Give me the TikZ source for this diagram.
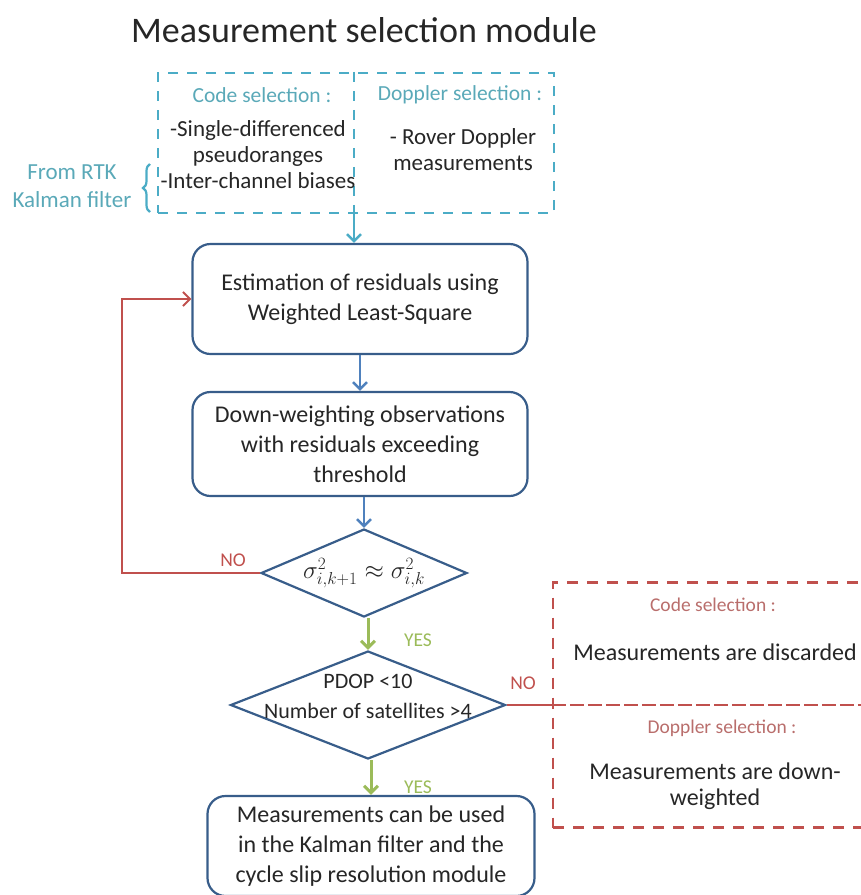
\documentclass[tikz,border=0pt]{standalone}
\usepackage{fontspec}
\setmainfont{Carlito}
\usetikzlibrary{shapes.geometric,arrows.meta,decorations.pathreplacing}
\definecolor{tealc}{HTML}{4BACC6}
\definecolor{tealt}{HTML}{5AA9B8}
\definecolor{boxc}{HTML}{385D8A}
\definecolor{bluea}{HTML}{4F81BD}
\definecolor{redc}{HTML}{C0504D}
\definecolor{redt}{HTML}{B96E6C}
\definecolor{greenc}{HTML}{9BBB59}
\definecolor{txt}{HTML}{262626}
\tikzset{
  every node/.style={text=txt, font=\fontsize{24}{30}\selectfont},
  procbox/.style={draw=boxc, line width=2.2pt, rounded corners=18pt, fill=white, align=center, inner sep=0pt},
  decbox/.style={draw=boxc, line width=2.2pt, diamond, fill=white, inner sep=0pt},
  tealtxt/.style={text=tealt, font=\fontsize{21.5}{26}\selectfont},
  redtxt/.style={text=redt, font=\fontsize{19.5}{26}\selectfont},
  toptxt/.style={align=center, font=\fontsize{23}{26}\selectfont},
  blueflow/.style={draw=bluea, line width=2.5pt, -{Straight Barb[length=7pt,width=14pt]}},
  greenflow/.style={draw=greenc, line width=3pt, -{Straight Barb[length=7pt,width=14pt]}},
  redflow/.style={draw=redc, line width=2pt, -{Straight Barb[length=7pt,width=14pt]}},
  lbl/.style={font=\fontsize{19.5}{22}\selectfont}
}
\begin{document}
\begin{tikzpicture}[x=1pt,y=-1pt]
\useasboundingbox (0,0) rectangle (861,895);
\clip (0,0) rectangle (861,895);
% title
\node[font=\fontsize{36}{40}\selectfont] (title) at (364,30) {Measurement selection module};
% top teal dashed box
\node[draw=tealc, line width=2.5pt, dash pattern=on 10pt off 9pt, minimum width=396, minimum height=140, inner sep=0pt] (top) at (356,143) {};
\draw[draw=tealc, line width=2.5pt, dash pattern=on 10pt off 9pt] ([xshift=-2pt]top.north) -- ([xshift=-2pt]top.south);
\node[tealtxt] (codesel) at (262,95) {Code selection :};
\node[tealtxt] (dopsel) at (460,95) {Doppler selection :};
\node[toptxt] (codetxt) at (258,155) {-Single-differenced\\pseudoranges\\-Inter-channel biases};
\node[toptxt] (doptxt) at (463,150) {- Rover Doppler\\measurements};
\node[tealtxt, align=center, font=\fontsize{23}{28}\selectfont] (rtk) at (72,186) {From RTK\\Kalman filter};
\draw[draw=tealc, line width=2.2pt, decorate, decoration={brace, amplitude=7pt}] (150,212) -- (150,164);
% process boxes
\node[procbox, minimum width=335, minimum height=110] (b1) at (360,299) {Estimation of residuals using\\Weighted Least-Square};
\node[procbox, minimum width=335, minimum height=104] (b2) at (360,444) {Down-weighting observations\\with residuals exceeding\\threshold};
\node[decbox, minimum width=206, minimum height=88] (d1) at (364,573) {};
\node[font=\fontsize{25}{30}\selectfont] (d1t) at (d1.center) {$\sigma^2_{i,k+1}\approx\sigma^2_{i,k}$};
\node[decbox, minimum width=275, minimum height=108] (d2) at (368,705) {};
\node[align=center, font=\fontsize{22}{30}\selectfont] (d2t) at (368,696) {PDOP <10\\Number of satellites >4};
\node[procbox, minimum width=327, minimum height=100] (b3) at (371,846) {Measurements can be used\\in the Kalman filter and the\\cycle slip resolution module};
% right red dashed box
\node[draw=redc, line width=2.5pt, dash pattern=on 11pt off 9pt, minimum width=340, minimum height=245, inner sep=0pt] (rb) at (723,705) {};
\draw[draw=redc, line width=2.5pt, dash pattern=on 14pt off 4pt] (rb.west) -- (rb.east);
\node[redtxt] (rcode) at (713,605) {Code selection :};
\node (rdisc) at (715,652) {Measurements are discarded};
\node[redtxt] (rdop) at (722,728) {Doppler selection :};
\node[align=center, font=\fontsize{24}{26}\selectfont] (rdown) at (715,786) {Measurements are down-\\weighted};
% connectors
\draw[draw=tealc, line width=2.5pt, -{Straight Barb[length=7pt,width=14pt]}] ([xshift=-2pt]top.south) -- ([xshift=-2pt]top.south |- b1.north);
\draw[blueflow] (b1.south) -- (b2.north);
\draw[blueflow] (b2.south -| d1.north) -- (d1.north);
\draw[greenflow] (d1.south -| d2.north) -- (d2.north);
\draw[greenflow] (d2.south -| b3.north) -- (b3.north);
\coordinate (loopc) at (122,573);
\draw[redflow] (d1.west) -- (loopc) |- (b1.west);
\draw[draw=redc, line width=2pt] (d2.east) -- (rb.west);
\node[text=redc, lbl] (no1) at (233,560) {NO};
\node[text=redc, lbl] (no2) at (523,683) {NO};
\node[text=greenc, lbl] (yes1) at (418,640) {YES};
\node[text=greenc, lbl] (yes2) at (418,787) {YES};
\end{tikzpicture}
\end{document}
